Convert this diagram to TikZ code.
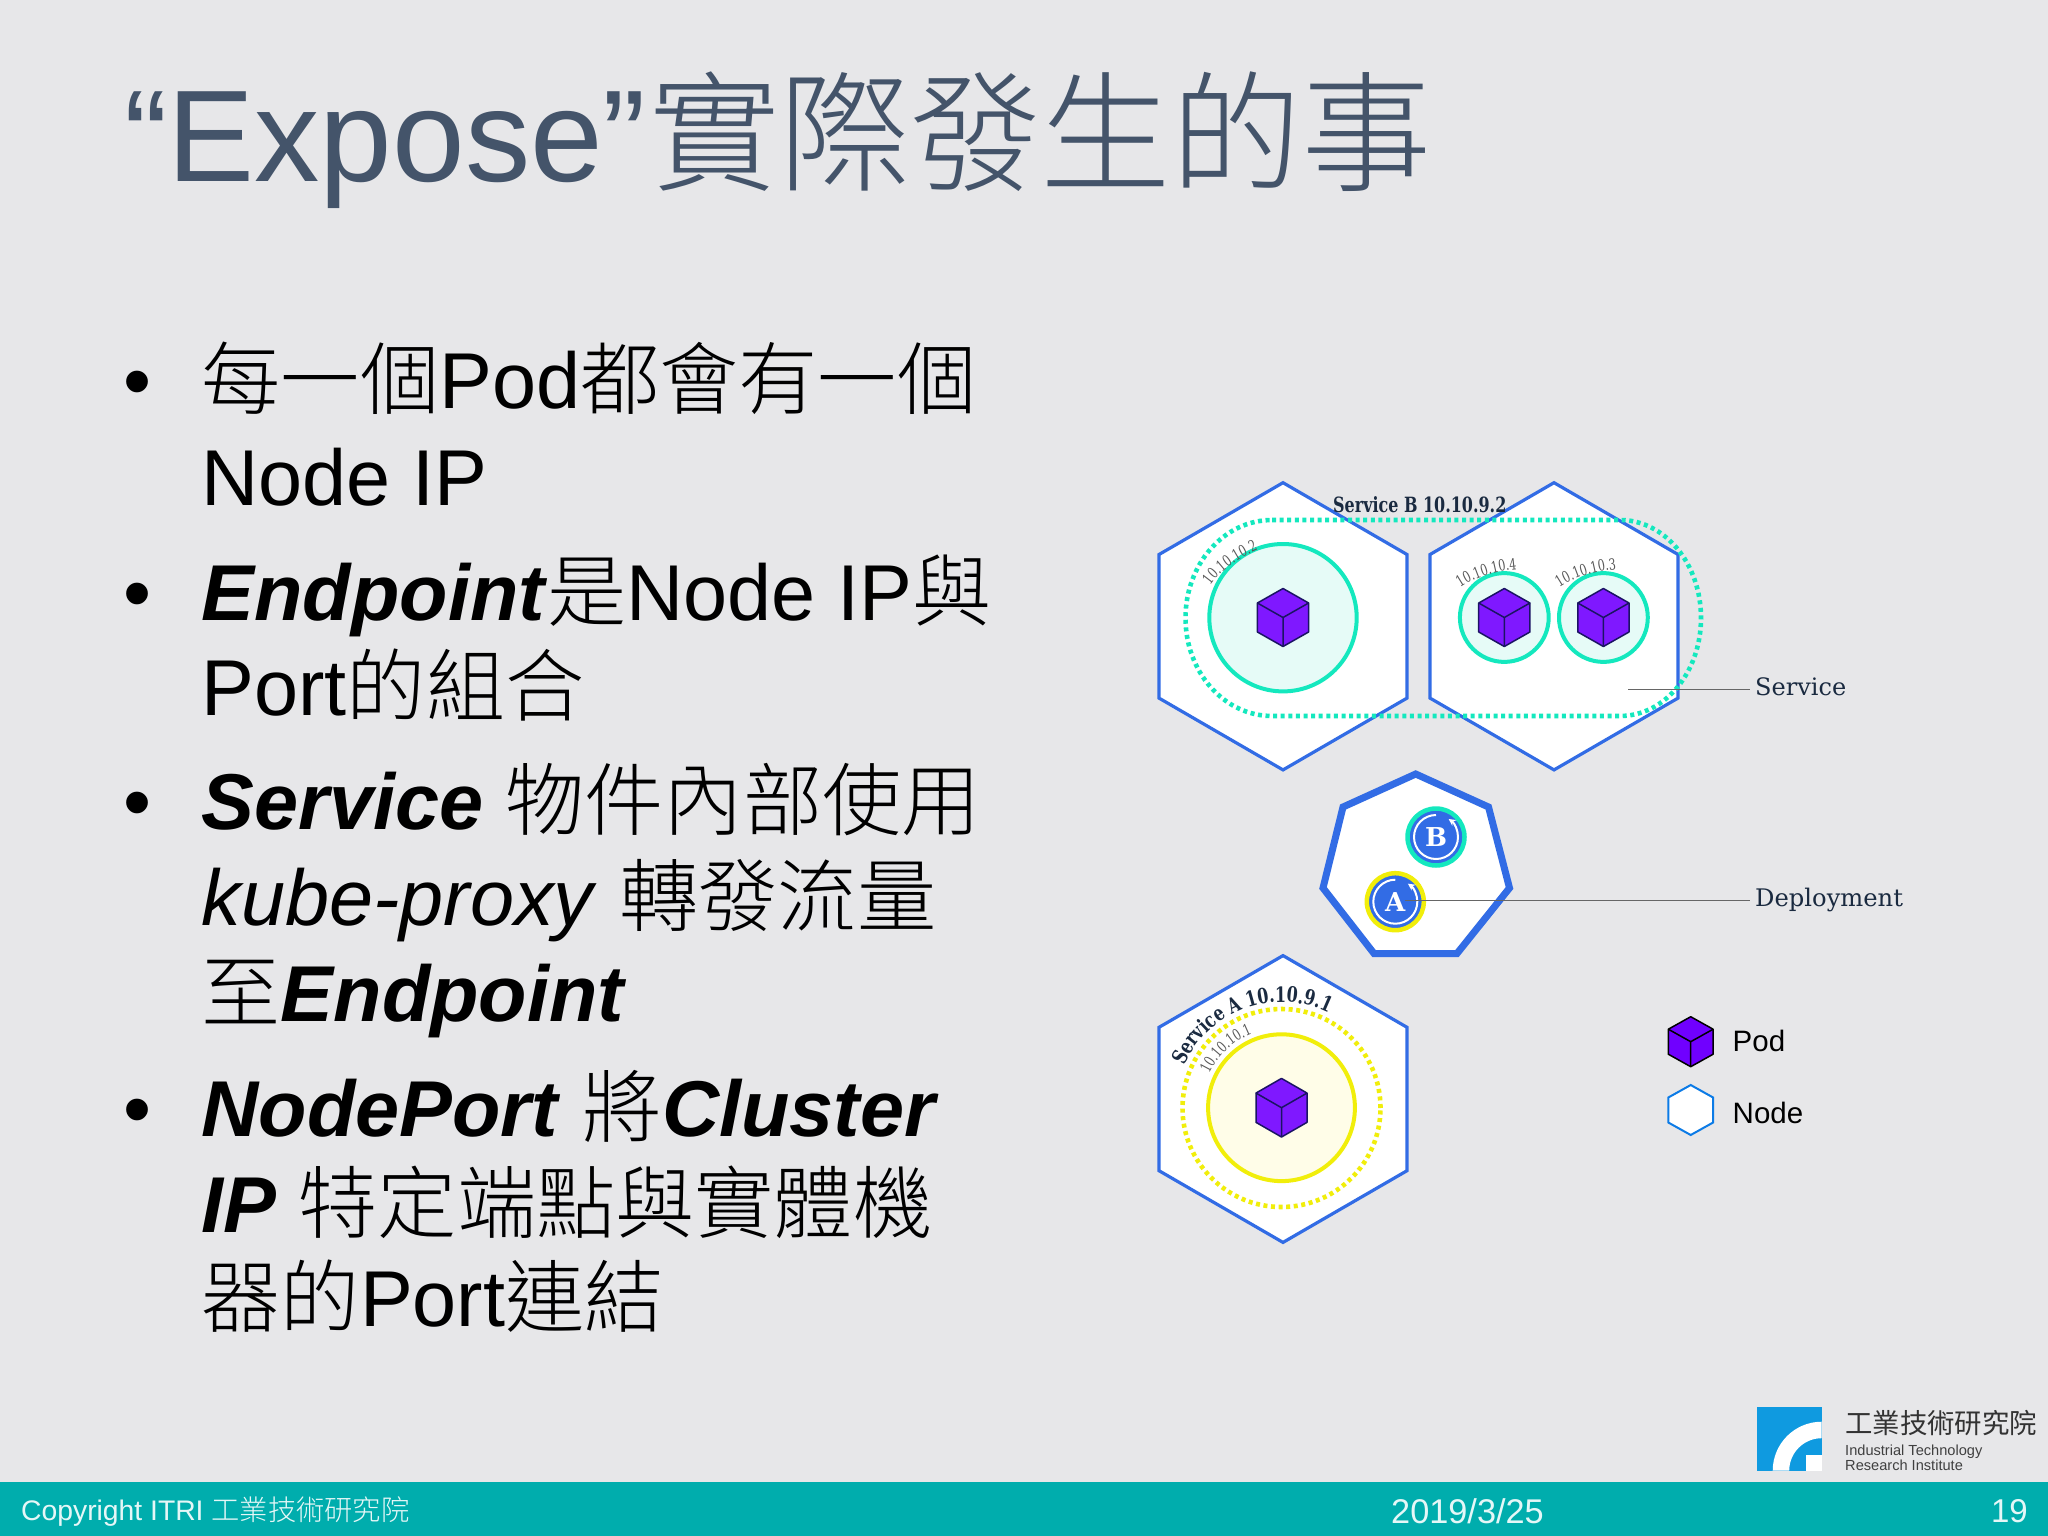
\documentclass[tikz,border=0pt]{standalone}
\usepackage{fontspec}
\usetikzlibrary{arrows.meta,decorations.text}
\setmainfont{Liberation Sans}
\newfontfamily\cjk{Noto Sans CJK TC Light}
\newfontfamily\cjkreg{Noto Sans CJK TC}
\newfontfamily\slab{DejaVu Serif}
\newfontfamily\slabb[FakeStretch=0.76]{DejaVu Serif Bold}
\newfontfamily\ipf[FakeStretch=0.72]{DejaVu Serif}
\newcommand{\C}[1]{{\cjk #1}}
\newcommand{\BI}[1]{\textbf{\textit{#1}}}
\definecolor{bg}{HTML}{E7E7E9}
\definecolor{titlec}{HTML}{44546A}
\definecolor{hexblue}{HTML}{326CE5}
\definecolor{teal}{HTML}{14E8BE}
\definecolor{tealfill}{HTML}{E6FBF7}
\definecolor{yel}{HTML}{F1EE0A}
\definecolor{yelfill}{HTML}{FFFDE8}
\definecolor{foot}{HTML}{00ADAD}
\definecolor{logo}{HTML}{0F9AE0}
\definecolor{cubefill}{HTML}{7F18FF}
\definecolor{cubeline}{HTML}{1B1464}
\definecolor{ink}{HTML}{1A2A40}
\tikzset{
  x=1pt,y=-1pt,
  body/.style={anchor=base west,inner sep=0pt,font=\fontsize{79.2}{90}\selectfont},
  bul/.style={anchor=base west,inner sep=0pt,font=\fontsize{80}{90}\selectfont},
  lbl/.style={anchor=base west,inner sep=0pt},
  hexnode/.style={draw=hexblue,fill=white,line width=3.2pt,line join=miter},
  ringdot/.style={line width=4.6pt,dash pattern=on 4pt off 3.6pt},
  ringsolid/.style={line width=4pt},
  ipstyle/.style={decorate,decoration={text along path,text align=center,
    text={|\fontsize{15.5}{16}\selectfont\ipf\color{black!65}|#1}}},
  pics/podcube/.style={code={
    \draw[fill=cubefill,draw=cubeline,line width=1.5pt,line join=round]
      (0,-1)--(1,-.5)--(1,.5)--(0,1)--(-1,.5)--(-1,-.5)--cycle;
    \draw[draw=cubeline,line width=1.5pt,line join=round] (-1,-.5)--(0,0)--(1,-.5) (0,0)--(0,1);
  }},
  pics/nodehex/.style={code={
    \path[pic actions] (0,-1)--(1,-.5)--(1,.5)--(0,1)--(-1,.5)--(-1,-.5)--cycle;
  }},
  leader/.style={draw=black!60,line width=1pt},
  deployc/.style={circle,inner sep=0pt,minimum size=57pt,fill=hexblue,line width=4.5pt},
  deployl/.style={inner sep=0pt,text=white,font=\fontsize{26}{26}\selectfont\slab\bfseries},
  ringarrow/.style={draw=white,line width=2pt,-{Stealth[length=7pt,width=7pt]}}
}
\begin{document}
\begin{tikzpicture}
\useasboundingbox (0,0) rectangle (2048,1536);
\fill[bg] (0,0) rectangle (2048,1536);
\fill[foot] (0,1482) rectangle (2048,1536);

% Title
\node[lbl,text=titlec,font=\fontsize{130.5}{140}\selectfont] (title) at (124,181.5) {“Expose”\kern3pt\C{實際發生的事}};

% Body
\node[bul] (b1) at (123,408) {•};
\node[body] (t1) at (201.5,408) {\C{每一個}Pod\C{都會有一個}};
\node[body] (t2) at (201.5,505) {Node IP};
\node[bul] (b2) at (123,620) {•};
\node[body] (t3) at (201.5,620) {\BI{Endpoint}\C{是}Node IP\C{與}};
\node[body] (t4) at (201.5,715) {Port\C{的組合}};
\node[bul] (b3) at (123,829) {•};
\node[body] (t5) at (201.5,829) {\BI{Service} \C{物件內部使用}};
\node[body] (t6) at (201.5,925) {\textit{kube-proxy} \C{轉發流量}};
\node[body] (t7) at (201.5,1021) {\C{至}\BI{Endpoint}};
\node[bul] (b4) at (123,1136) {•};
\node[body] (t8) at (201.5,1136) {\BI{NodePort} \C{將}\BI{Cluster}};
\node[body] (t9) at (201.5,1232) {\BI{IP} \C{特定端點與實體機}};
\node[body] (t10) at (201.5,1326) {\C{器的}Port\C{連結}};

% Node hexagons
\pic[hexnode,xscale=124,yscale=143.6] at (1283,626.3) {nodehex};
\pic[hexnode,xscale=124,yscale=143.6] at (1554,626.3) {nodehex};
\pic[hexnode,xscale=124,yscale=143.4] at (1283,1099) {nodehex};

% Service B
\draw[teal,ringdot]
  (1272,520) -- (1620,520) .. controls (1665,520) and (1701,564) .. (1701,618)
  .. controls (1701,672) and (1665,716) .. (1620,716) -- (1272,716)
  .. controls (1224,716) and (1185.5,672) .. (1185.5,618)
  .. controls (1185.5,564) and (1224,520) .. (1272,520);
\draw[teal,fill=tealfill,ringsolid] (1283,617.7) circle[radius=73.7pt];
\draw[teal,fill=tealfill,ringsolid] (1504.3,617.5) circle[radius=44.4pt];
\draw[teal,fill=tealfill,ringsolid] (1603.4,617.5) circle[radius=44.4pt];
\pic[xscale=25.6,yscale=29] at (1283,617.5) {podcube};
\pic[xscale=25.6,yscale=29] at (1504.3,617.5) {podcube};
\pic[xscale=25.6,yscale=29] at (1603.4,617.5) {podcube};
\path[ipstyle={10.10.10.2}] (1209,587) .. controls (1220,570) and (1239,558) .. (1260,549.3);
\path[ipstyle={10.10.10.4}] (1459,588.3) .. controls (1475,577) and (1497,571) .. (1518.4,569.3);
\path[ipstyle={10.10.10.3}] (1558,588.3) .. controls (1574,577) and (1596,571) .. (1618,569.3);
\node[lbl,text=ink,font=\fontsize{21}{22}\selectfont\slabb] (svcb) at (1333,512.7) {Service B 10.10.9.2};

% Service line
\coordinate (svcstart) at (1628,689);
\node[lbl,text=ink,font=\fontsize{24}{26}\selectfont\slab] (svclabel) at (1755,695) {Service};
\draw[leader] (svcstart) -- ([xshift=-5pt]svcstart -| svclabel.west);

% Deployment heptagon
\draw[draw=hexblue,fill=white,line width=7pt,line join=miter]
  (1415.7,774) -- (1488.5,807) -- (1509.5,888) -- (1457,953.5) -- (1374,953.5) -- (1323,888) -- (1343,807) -- cycle;
\node[deployc,draw=teal] (cb) at (1436,837) {};
\node[deployc,draw=yel] (ca) at (1395.3,901.7) {};
\draw[ringarrow] (1436,815) arc[start angle=90,end angle=415,radius=22pt];
\draw[ringarrow] (1395.3,879.7) arc[start angle=90,end angle=415,radius=22pt];
\node[deployl] (lb) at (cb) {B};
\node[deployl] (la) at (ca) {A};
\node[lbl,text=ink,font=\fontsize{24.2}{27}\selectfont\slab] (deplabel) at (1755,906) {Deployment};
\coordinate (depstart) at (1405,900);
\draw[leader] (depstart) -- ([xshift=-5pt]depstart -| deplabel.west);

% Service A
\draw[yel,ringdot] (1281.5,1108) circle[radius=99pt];
\draw[yel,fill=yelfill,ringsolid] (1281.5,1107.7) circle[radius=73.4pt];
\pic[xscale=25.5,yscale=29.3] at (1281.5,1107.7) {podcube};
\path[ipstyle={10.10.10.1}] (1207.3,1078) arc[start angle=158,end angle=108,radius=80pt];
\path[decorate,decoration={text along path,text align=center,
  text={|\fontsize{21}{22}\selectfont\slabb\color{ink}|Service A 10.10.9.1}}]
  (1181.9,1071.7) arc[start angle=160,end angle=60,radius=106pt];

% Legend
\begin{scope}
\definecolor{cubefill}{HTML}{7000FF}
\colorlet{cubeline}{black}
\pic[xscale=22.4,yscale=25] at (1690.7,1041.7) {podcube};
\end{scope}
\pic[draw=logo!80!blue,fill=white,line width=2pt,xscale=22.4,yscale=25] at (1690.7,1110) {nodehex};
\node[lbl,font=\fontsize{29.5}{30}\selectfont] (podl) at (1732.5,1051.7) {Pod};
\node[lbl,font=\fontsize{29.5}{30}\selectfont] (nodel) at (1732.5,1123.5) {Node};

% Logo
\fill[logo] (1756.7,1407.3) rectangle (1821.7,1470.7);
\fill[white] (1772.7,1470.7) arc[start angle=180,end angle=90,radius=49pt] -- (1821.7,1438.2)
  arc[start angle=90,end angle=180,radius=32.5pt] -- cycle;
\fill[white] (1806,1455) rectangle (1821.7,1470.7);
\node[lbl,text=black!80,font=\fontsize{27.4}{28}\selectfont\cjkreg] (logoa) at (1845,1433) {工業技術研究院};
\node[lbl,text=black!75,font=\fontsize{14.6}{16}\selectfont] (logob) at (1845,1455) {Industrial Technology};
\node[lbl,text=black!75,font=\fontsize{14.6}{16}\selectfont] (logoc) at (1845,1470.7) {Research Institute};

% Footer
\node[lbl,text=white!90!foot,font=\fontsize{28.3}{30}\selectfont] (fa) at (21,1520) {Copyright ITRI \C{工業技術研究院}};
\node[lbl,text=white!90!foot,font=\fontsize{34.3}{36}\selectfont] (fb) at (1391,1523) {2019/3/25};
\node[anchor=base east,inner sep=0pt,text=white!90!foot,font=\fontsize{33}{36}\selectfont] (fc) at (2028,1522) {19};
\end{tikzpicture}
\end{document}
